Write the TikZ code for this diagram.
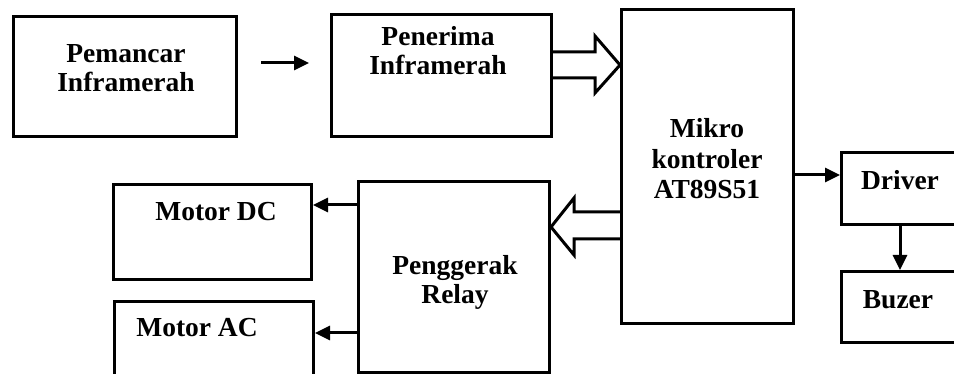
\documentclass[tikz,border=0pt]{standalone}
\usepackage{fontspec}
\setmainfont{Liberation Serif}
\usetikzlibrary{arrows.meta,calc}
\begin{document}
\begin{tikzpicture}[x=1pt,y=-1pt,
  blk/.style={draw=black,line width=3pt,rectangle,inner sep=0pt,anchor=north west},
  lbl/.style={align=center,inner sep=0pt,font=\fontsize{27.5}{29}\selectfont\bfseries},
  arr/.style={line width=3pt,-{Triangle[length=15pt,width=14pt]}},
  hollow/.style={line width=3pt,line join=miter}]
\clip (0,0) rectangle (954,374);
\fill[white] (0,0) rectangle (954,374);
% boxes
\node[blk,minimum width=223pt,minimum height=120pt] (pem) at (12,15) {};
\node[blk,minimum width=220pt,minimum height=122pt] (pen) at (330,13) {};
\node[blk,minimum width=172pt,minimum height=314pt] (mik) at (620,8) {};
\node[blk,minimum width=160pt,minimum height=72pt] (drv) at (840,151) {};
\node[blk,minimum width=160pt,minimum height=71pt] (buz) at (840,270) {};
\node[blk,minimum width=191pt,minimum height=191pt] (rel) at (357,180) {};
\node[blk,minimum width=198pt,minimum height=95pt] (mdc) at (112,183) {};
\node[blk,minimum width=199pt,minimum height=90pt] (mac) at (113,300) {};
% labels
\node[lbl] (tpem) at (126,68) {Pemancar\\Inframerah};
\node[lbl] (tpen) at (438,51) {Penerima\\Inframerah};
\node[lbl,font=\fontsize{27.5}{30.5}\selectfont\bfseries] (tmik) at (707,159) {Mikro\\kontroler\\AT89S51};
\node[lbl] (tdrv) at (900,180) {Driver};
\node[lbl] (tbuz) at (898,300) {Buzer};
\node[lbl] (trel) at (455,282) {Penggerak\\Relay};
\node[lbl] (tmdc) at (216,212) {Motor DC};
\node[lbl] (tmac) at (197,328) {Motor AC};
% simple arrows
\coordinate (a1s) at (261,63);
\coordinate (a1e) at (309,63);
\draw[arr] (a1s) -- (a1e);
\coordinate (ydrv) at (0,175);
\draw[arr] (mik.east |- ydrv) -- (drv.west |- ydrv);
\draw[arr] (drv.south -| 900,0) -- (buz.north -| 900,0);
\coordinate (ydc) at (0,205);
\coordinate (yac) at (0,333);
\draw[arr] (rel.west |- ydc) -- (mdc.east |- ydc);
\draw[arr] (rel.west |- yac) -- (mac.east |- yac);
% hollow arrow Penerima -> Mikro
\draw[hollow] (pen.east |- 0,52) -- (595,52) -- (595,36) -- (mik.west |- 0,65) -- (595,93) -- (595,78) -- (pen.east |- 0,78);
% hollow arrow Mikro -> Penggerak
\draw[hollow] (mik.west |- 0,212) -- (574,212) -- (574,198) -- (rel.east |- 0,227) -- (574,255) -- (574,239) -- (mik.west |- 0,239);
\end{tikzpicture}
\end{document}
